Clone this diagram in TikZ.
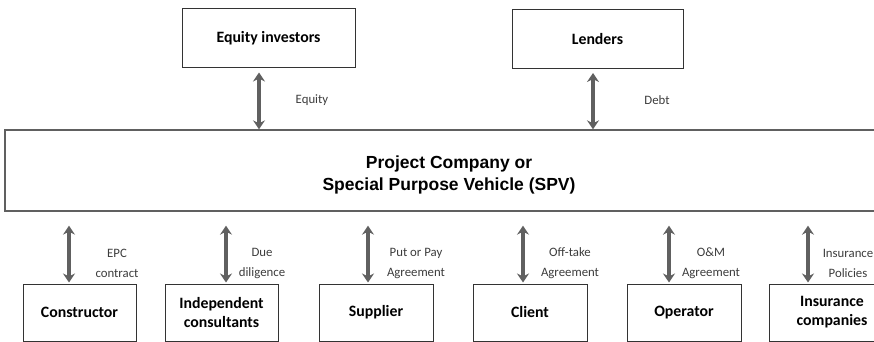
\documentclass[tikz,border=0pt]{standalone}
\usepackage{fontspec}
\setmainfont{Carlito}
\newfontfamily\spvfont{Liberation Sans}
\usetikzlibrary{arrows.meta}
\definecolor{linkgray}{RGB}{96,96,96}
\definecolor{textgray}{RGB}{60,60,60}
\tikzset{
  party/.style 2 args={draw=black!80, line width=1pt, minimum width=#1, minimum height=#2,
    inner sep=0pt, align=center, font=\fontsize{15.8}{19}\selectfont\bfseries},
  link/.style={linkgray, line width=3.2pt, {Stealth[length=9pt,width=12pt,inset=3pt]}-{Stealth[length=9pt,width=12pt,inset=3pt]}},
  deal/.style={text=textgray, align=center, font=\fontsize{12.8}{20}\selectfont}
}
\begin{document}
\begin{tikzpicture}[x=1pt,y=-1pt]
  \useasboundingbox (0,0) rectangle (874,342);
  % parties on top
  \node (equity) at (268.5,38.5) [party={173pt}{59pt}] {Equity investors};
  \node (lenders) at (597.5,39) [party={171pt}{59pt}] {Lenders};
  % the project company
  \node (spv) at (449,170.5) [draw=linkgray, line width=1.4pt, minimum width=888pt, minimum height=81pt,
    inner sep=0pt, font=\spvfont\fontsize{17.5}{21.5}\selectfont\bfseries]
    {\raisebox{-4.5pt}[\height][\depth]{\begin{tabular}{@{}c@{}}Project Company or\\Special Purpose Vehicle (SPV)\end{tabular}}};
  % parties below
  \node (constructor) at (79.5,312.5) [party={113pt}{57pt}] {Constructor};
  \node (consultants) at (221.5,312.5) [party={113pt}{57pt}] {Independent\\consultants};
  \node (supplier) at (376,312.5) [party={114pt}{57pt}] {Supplier};
  \node (client) at (530,312.5) [party={114pt}{57pt}] {Client};
  \node (operator) at (684,312.5) [party={114pt}{57pt}] {Operator};
  \node (insurer) at (832,312.5) [party={126pt}{57pt}] {Insurance\\companies};
  % arrows
  \draw[link, shorten <=4pt] ([xshift=-9.5pt]equity.south) -- ([xshift=-9.5pt]equity.south |- spv.north);
  \draw[link, shorten <=4pt] ([xshift=-4.5pt]lenders.south) -- ([xshift=-4.5pt]lenders.south |- spv.north);
  \draw[link, shorten <=14pt, shorten >=1pt] ([xshift=-10.5pt]constructor.north |- spv.south) -- ([xshift=-10.5pt]constructor.north);
  \draw[link, shorten <=14pt, shorten >=1pt] ([xshift=4.5pt]consultants.north |- spv.south) -- ([xshift=4.5pt]consultants.north);
  \draw[link, shorten <=14pt, shorten >=1pt] ([xshift=-8pt]supplier.north |- spv.south) -- ([xshift=-8pt]supplier.north);
  \draw[link, shorten <=14pt, shorten >=1pt] ([xshift=-7pt]client.north |- spv.south) -- ([xshift=-7pt]client.north);
  \draw[link, shorten <=14pt, shorten >=1pt] ([xshift=-15pt]operator.north |- spv.south) -- ([xshift=-15pt]operator.north);
  \draw[link, shorten <=14pt, shorten >=1pt] ([xshift=-24pt]insurer.north |- spv.south) -- ([xshift=-24pt]insurer.north);
  % labels
  \node (equitylbl) at (312,100.5) [deal] {Equity};
  \node (debtlbl) at (657,100.5) [deal] {Debt};
  \node (epclbl) at (117,263) [deal] {EPC\\contract};
  \node (duelbl) at (262,263) [deal] {Due\\diligence};
  \node (putlbl) at (416,263) [deal] {Put or Pay\\Agreement};
  \node (offtakelbl) at (570,263) [deal] {Off-take\\Agreement};
  \node (omlbl) at (711,263) [deal] {O\&M\\Agreement};
  \node (policylbl) at (848,263) [deal] {Insurance\\Policies};
\end{tikzpicture}
\end{document}
